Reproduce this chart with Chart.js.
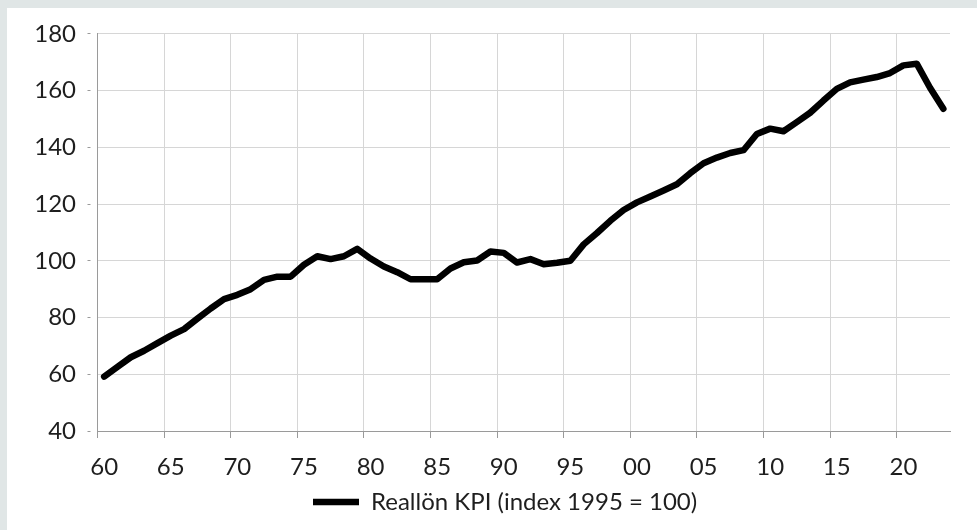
<!DOCTYPE html>
<html lang="sv">
<head>
<meta charset="utf-8">
<title>Reallön KPI</title>
<script src="https://cdn.jsdelivr.net/npm/chart.js@4.4.0/dist/chart.umd.min.js"></script>
<style>
    html, body { margin: 0; padding: 0; }
    body { width: 977px; height: 530px; background: #e0e6e6; position: relative; overflow: hidden; }
    .panel { position: absolute; left: 7px; top: 8px; width: 970px; height: 522px; background: #fff; }
</style>
</head>
<body>
<div class="panel"><canvas id="reallon"></canvas></div>
<script>
    "use strict";

    // Årtal (kategorier) och serien
    var years = [
        1960, 1961, 1962, 1963, 1964, 1965, 1966, 1967, 1968, 1969,
        1970, 1971, 1972, 1973, 1974, 1975, 1976, 1977, 1978, 1979,
        1980, 1981, 1982, 1983, 1984, 1985, 1986, 1987, 1988, 1989,
        1990, 1991, 1992, 1993, 1994, 1995, 1996, 1997, 1998, 1999,
        2000, 2001, 2002, 2003, 2004, 2005, 2006, 2007, 2008, 2009,
        2010, 2011, 2012, 2013, 2014, 2015, 2016, 2017, 2018, 2019,
        2020, 2021, 2022, 2023
    ];
    var reallon = [
        59.2, 62.6, 66.0, 68.3, 71.0, 73.6, 75.9, 79.6, 83.2, 86.5,
        88.0, 90.0, 93.3, 94.4, 94.4, 98.6, 101.6, 100.6, 101.6, 104.2,
        100.8, 98.0, 96.0, 93.5, 93.5, 93.5, 97.3, 99.5, 100.1, 103.3,
        102.8, 99.4, 100.6, 98.8, 99.3, 100.0, 105.8, 109.8, 114.1, 117.9,
        120.6, 122.7, 124.8, 127.0, 130.9, 134.4, 136.4, 138.0, 139.0, 144.7,
        146.6, 145.7, 148.9, 152.2, 156.5, 160.6, 162.9, 163.9, 164.8, 166.2,
        168.9, 169.5, 161.0, 153.6
    ];
    var yTicks = [40, 60, 80, 100, 120, 140, 160, 180];
    var seriesLabel = "Reallön KPI (index 1995 = 100)";

    Chart.defaults.font.family = "Lato, 'Open Sans', sans-serif";
    Chart.defaults.font.size = 24;
    Chart.defaults.color = "#1e1e1e";

    var gridColor = "#d6d6d6";
    var axisColor = "#9a9a9a";

    // bara var femte år får stödlinje och etikett
    var everyFifth = function (ctx) {
        return ctx.index % 5 === 0 ? gridColor : "rgba(0,0,0,0)";
    };
    var everyFifthTick = function (ctx) {
        return ctx.index % 5 === 0 ? axisColor : "rgba(0,0,0,0)";
    };

    // flytta förklaringen så att den börjar vid x = 296
    var legendStart = {
        id: "legendStart",
        afterLayout: function (chart) {
            chart.legend.left = 296;
        }
    };

    var ctx = document.getElementById("reallon").getContext("2d");
    var myChart = new Chart(ctx, {
        type: "line",
        data: {
            labels: years.map(String),
            datasets: [{
                label: seriesLabel,
                data: reallon,
                borderColor: "#000",
                backgroundColor: "#000",
                borderWidth: 6.5,
                borderCapStyle: "round",
                borderJoinStyle: "round",
                pointRadius: 0,
                tension: 0,
                fill: false
            }]
        },
        options: {
            responsive: true,
            maintainAspectRatio: false,
            animation: false,
            layout: {
                padding: { top: 10, right: 27, bottom: 6, left: 0 }
            },
            scales: {
                x: {
                    type: "category",
                    offset: true,
                    grid: {
                        offset: true,
                        color: everyFifth,
                        tickColor: everyFifthTick,
                        tickLength: 7,
                        drawTicks: true
                    },
                    border: { color: axisColor, width: 1 },
                    ticks: {
                        autoSkip: false,
                        maxRotation: 0,
                        minRotation: 0,
                        padding: 15,
                        callback: function (value, index) {
                            return index % 5 === 0 ? years[index].toString().slice(2) : "";
                        }
                    },
                    afterFit: function (scale) { scale.height = 49; }
                },
                y: {
                    min: yTicks[0],
                    max: yTicks[yTicks.length - 1],
                    afterBuildTicks: function (scale) {
                        scale.ticks = yTicks.map(function (v) { return { value: v }; });
                    },
                    grid: {
                        color: gridColor,
                        tickColor: axisColor,
                        tickLength: 10,
                        // bara de 3 px närmast axeln syns av strecket
                        tickBorderDash: [3, 20]
                    },
                    border: { color: axisColor, width: 1 },
                    ticks: { padding: 11.5 },
                    afterFit: function (scale) { scale.width = 90.5; }
                }
            },
            plugins: {
                legend: {
                    position: "bottom",
                    align: "start",
                    labels: {
                        usePointStyle: true,
                        pointStyle: "line",
                        pointStyleWidth: 46,
                        padding: 10,
                        color: "#1e1e1e"
                    }
                },
                tooltip: { enabled: false }
            }
        },
        plugins: [legendStart]
    });
</script>
</body>
</html>
